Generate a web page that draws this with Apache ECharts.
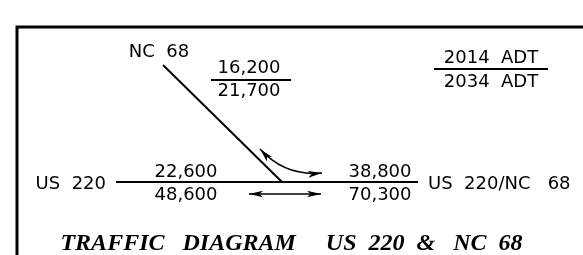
<!DOCTYPE html>
<html>
<head>
<meta charset="utf-8">
<title>Traffic Diagram US 220 &amp; NC 68</title>
<script src="https://cdn.jsdelivr.net/npm/echarts@6/dist/echarts.min.js"></script>
<style>
	html, body { margin:0; padding:0; background:#fff; }
	#chart { width:583px; height:255px; }
</style>
</head>
<body>
<div id="chart"></div>
<script>
// ADT volumes, top = 2014, bottom = 2034
var nc68Volumes = ['16,200', '21,700'];
var westVolumes = ['22,600', '48,600'];
var eastVolumes = ['38,800', '70,300'];
var yearLabels = ['2014  ADT', '2034  ADT'];
var roadNames = ['NC  68', 'US  220', 'US  220/NC   68'];
var diagramTitle = 'TRAFFIC   DIAGRAM     US  220  &   NC  68';

// layout of the sketch (x, y in page pixels, axes run 0..583 / 0..255)
var nc68Pos = [249, 68, 91];
var westPos = [186, 172, 195];
var eastPos = [380, 172, 195];
var yearPos = [491, 58, 82];
var roadNamePos = [[159, 52], [106, 184], [428, 184]];
var roadLines = [[[163, 65], [282, 182]], [[116, 182], [418, 182]]];
var splitLines = [[[211, 80], [291, 80]], [[434, 69], [548, 69]]];
var twoWayArrow = [[249, 194], [321, 194]];
var turnArrow = [[260, 149], [322, 173]];

var font = 'DejaVu Sans';

function pair(texts, pos){
	return [
		{ name: texts[0], value: [pos[0], pos[1]] },
		{ name: texts[1], value: [pos[0], pos[2]] }
	];
}

function textSeries(data, position){
	return {
		type: 'scatter',
		symbolSize: 0,
		silent: true,
		itemStyle: { opacity: 1 },
		data: data,
		label: {
			show: true,
			position: position,
			distance: 0,
			formatter: '{b}',
			color: '#000',
			opacity: 1,
			fontFamily: font,
			fontSize: 18
		}
	};
}

var chart = echarts.init(document.getElementById('chart'));

chart.setOption({
	animation: false,
	title: {
		text: diagramTitle,
		left: 'center',
		top: 232,
		padding: 0,
		textStyle: {
			fontFamily: 'Liberation Serif',
			fontStyle: 'italic',
			fontWeight: 'bold',
			fontSize: 24,
			color: '#000'
		}
	},
	graphic: [{
		type: 'rect',
		shape: { x: 17, y: 27, width: 640, height: 320 },
		style: { fill: 'none', stroke: '#000', lineWidth: 3 }
	}],
	grid: { left: 0, right: 0, top: 0, bottom: 0 },
	xAxis: { type: 'value', min: 0, max: 583, show: false },
	yAxis: { type: 'value', min: 0, max: 255, inverse: true, show: false },
	series: [
		{
			type: 'lines',
			coordinateSystem: 'cartesian2d',
			silent: true,
			lineStyle: { color: '#000', width: 2, opacity: 1 },
			data: roadLines.concat(splitLines).map(function(c){ return { coords: c }; })
		},
		{
			type: 'lines',
			coordinateSystem: 'cartesian2d',
			silent: true,
			symbol: ['arrow', 'arrow'],
			symbolSize: [[5, 14], [5, 14]],
			lineStyle: { color: '#000', width: 1.6, opacity: 1 },
			data: [
				{ coords: twoWayArrow },
				{ coords: turnArrow, lineStyle: { curveness: -0.25 } }
			]
		},
		textSeries(pair(nc68Volumes, nc68Pos)
			.concat(pair(westVolumes, westPos))
			.concat(pair(eastVolumes, eastPos))
			.concat(pair(yearLabels, yearPos))
			.concat([{ name: roadNames[0], value: roadNamePos[0] }]), 'inside'),
		textSeries([{ name: roadNames[1], value: roadNamePos[1] }], 'left'),
		textSeries([{ name: roadNames[2], value: roadNamePos[2] }], 'right')
	]
});
</script>
</body>
</html>
